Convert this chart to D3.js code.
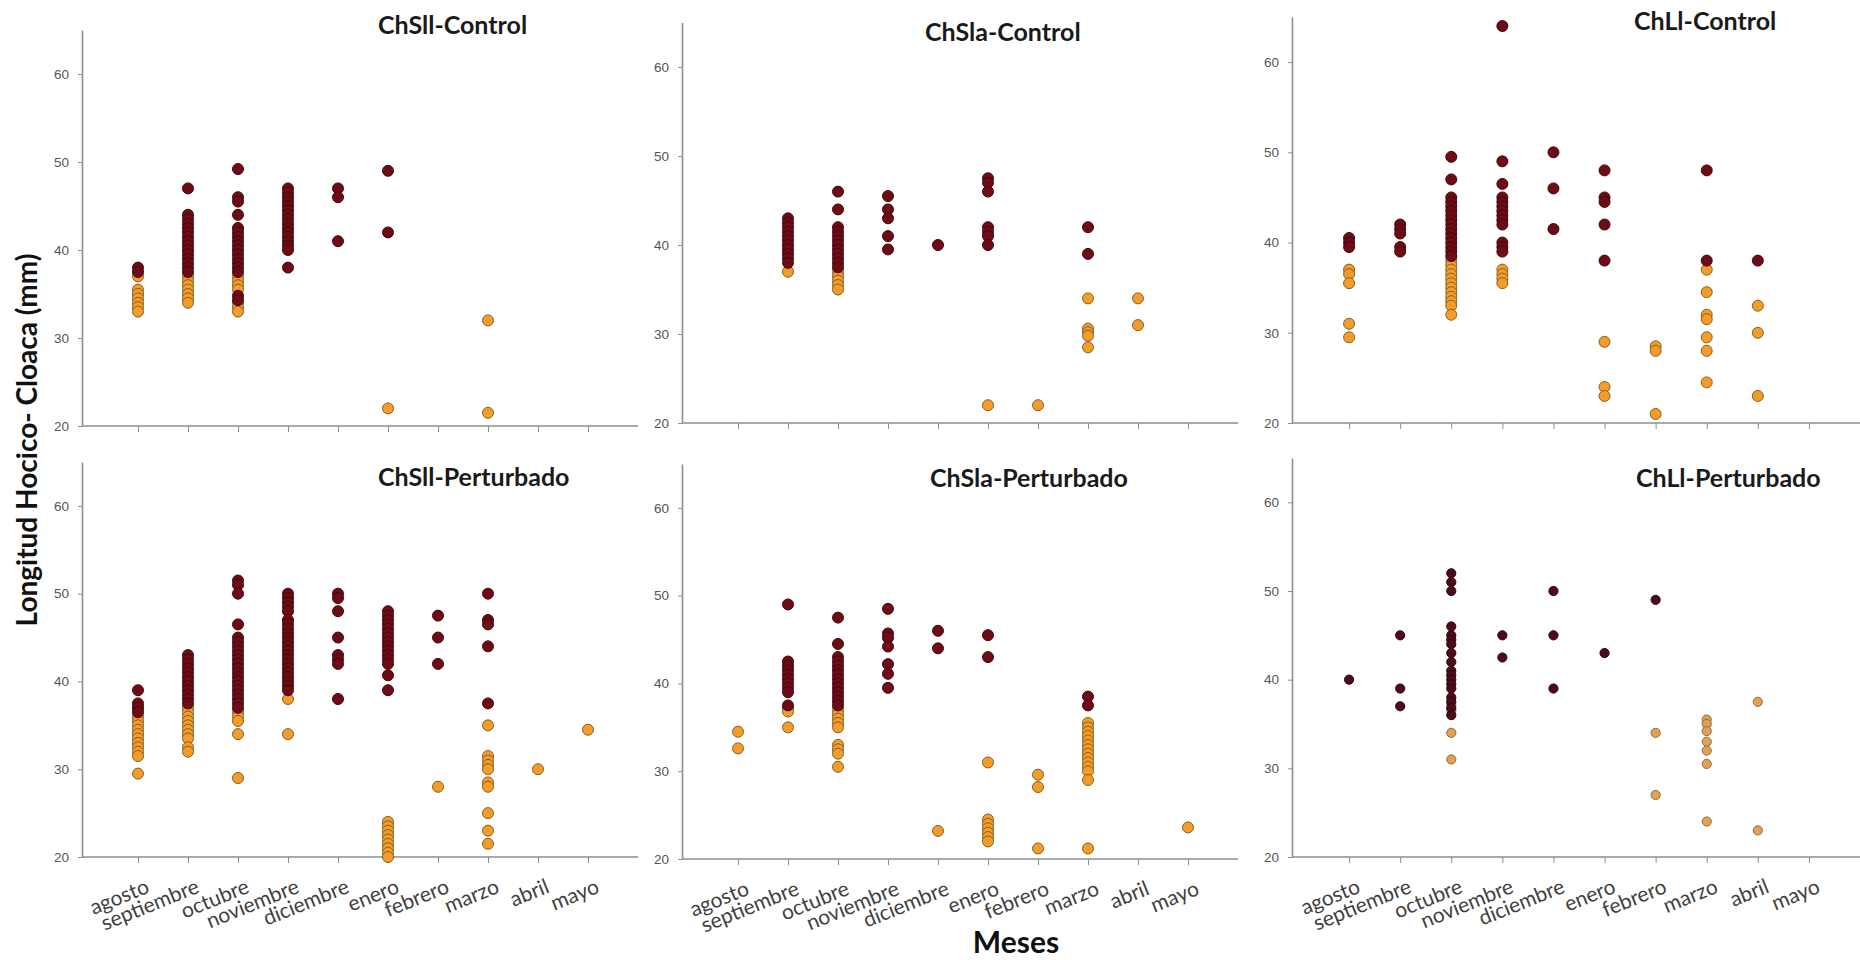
<!DOCTYPE html>
<html>
<head>
<meta charset="utf-8">
<script src="https://cdn.jsdelivr.net/npm/d3@7"></script>
<style>
  body { margin: 0; background: #ffffff; }
  svg { display: block; }
</style>
</head>
<body>
<svg id="grafico" width="1860" height="960"></svg>
<script>
// Meses de muestreo (eje X) y marcas del eje Y
const meses = ["agosto", "septiembre", "octubre", "noviembre", "diciembre",
               "enero", "febrero", "marzo", "abril", "mayo"];
const marcasY = [20, 30, 40, 50, 60];

// Longitud hocico-cloaca (mm) por mes; "oscuro" = puntos granate, "claro" = puntos naranja

// ChSll-Control
const chsllControlOscuro = [
  [38, 37.5],
  [47, 44, 43.5, 43, 42.5, 42, 41.5, 41, 40.5, 40, 39.5, 39, 38.5, 38, 37.5],
  [49.2, 46, 45.5, 44, 42.5, 42, 41.5, 41, 40.5, 40, 39.5, 39, 38.5, 38, 37.5, 34.8, 34.3],
  [47, 46.5, 46, 45.5, 45, 44.5, 44, 43.5, 43, 42.5, 42, 41.5, 41, 40.5, 40, 38],
  [47, 46, 41],
  [49, 42],
  [], [], [], []
];
const chsllControlClaro = [
  [37, 35.5, 35, 34.5, 34, 33.5, 33],
  [37, 36.5, 36, 35.5, 35, 34.5, 34],
  [37, 36.5, 36, 35.5, 34, 33.5, 33],
  [], [],
  [22],
  [],
  [32, 21.5],
  [], []
];

// ChSla-Control
const chslaControlOscuro = [
  [],
  [43, 42.5, 42, 41.5, 41, 40.5, 40, 39.5, 39, 38.5, 38],
  [46, 44, 42, 41.5, 41, 40.5, 40, 39.5, 39, 38.5, 38, 37.5],
  [45.5, 44, 43, 41, 39.5],
  [40],
  [47.5, 47, 46, 42, 41.5, 41, 40],
  [],
  [42, 39],
  [], []
];
const chslaControlClaro = [
  [],
  [37],
  [37, 36.5, 36, 35.5, 35],
  [], [],
  [22],
  [22],
  [34, 30.6, 30.2, 29.8, 28.5],
  [34, 31],
  []
];

// ChLl-Control
const chllControlOscuro = [
  [40.5, 40, 39.5],
  [42, 41.5, 41, 39.5, 39],
  [49.5, 47, 45, 44.5, 44, 43.5, 43, 42.5, 42, 41.5, 41, 40.5, 40, 39.5, 39, 38.5],
  [64, 49, 46.5, 45, 44.5, 44, 43.5, 43, 42.5, 42, 40, 39.5, 39],
  [50, 46, 41.5],
  [48, 45, 44.5, 42, 38],
  [],
  [48, 38],
  [38],
  []
];
const chllControlClaro = [
  [37, 36.5, 35.5, 31, 29.5],
  [],
  [38, 37.5, 37, 36.5, 36, 35.5, 35, 34.5, 34, 33.5, 33, 32],
  [37, 36.5, 36, 35.5],
  [],
  [29, 24, 23],
  [28.5, 28, 21],
  [37, 34.5, 32, 31.5, 29.5, 28, 24.5],
  [33, 30, 23],
  []
];

// ChSll-Perturbado
const chsllPerturbadoOscuro = [
  [39, 37.5, 37, 36.5],
  [43, 42.5, 42, 41.5, 41, 40.5, 40, 39.5, 39, 38.5, 38, 37.5],
  [51.5, 51, 50, 46.5, 45, 44.5, 44, 43.5, 43, 42.5, 42, 41.5, 41, 40.5, 40, 39.5, 39, 38.5, 38, 37.5, 37],
  [50, 49.5, 49, 48.5, 48, 47, 46.5, 46, 45.5, 45, 44.5, 44, 43.5, 43, 42.5, 42, 41.5, 41, 40.5, 40, 39.5, 39],
  [50, 49.5, 48, 45, 43, 42.5, 42, 38],
  [48, 47.5, 47, 46.5, 46, 45.5, 45, 44.5, 44, 43.5, 43, 42.5, 42, 40.7, 39],
  [47.5, 45, 42],
  [50, 47, 46.5, 44, 37.5],
  [], []
];
const chsllPerturbadoClaro = [
  [37, 36, 35.5, 35, 34.5, 34, 33.5, 33, 32.5, 32, 31.5, 29.5],
  [37, 36.5, 36, 35.5, 35, 34.5, 34, 33.5, 32.5, 32],
  [36.5, 36, 35.5, 34, 29],
  [38, 34],
  [],
  [24, 23.5, 23, 22.5, 22, 21.5, 21, 20.5, 20],
  [28],
  [35, 31.5, 31, 30.5, 30, 28.5, 28, 25, 23, 21.5],
  [30],
  [34.5]
];

// ChSla-Perturbado
const chslaPerturbadoOscuro = [
  [],
  [49, 42.5, 42, 41.5, 41, 40.5, 40, 39.5, 39, 37.5],
  [47.5, 44.5, 43, 42.5, 42, 41.5, 41, 40.5, 40, 39.5, 39, 38.5, 38, 37.5],
  [48.5, 45.7, 45.2, 44.2, 42.2, 41.1, 39.5],
  [46, 44],
  [45.5, 43],
  [],
  [38.5, 37.5],
  [], []
];
const chslaPerturbadoClaro = [
  [34.5, 32.6],
  [37.2, 36.8, 35],
  [37, 36.5, 36, 35.5, 35, 33, 32.5, 32, 30.5],
  [],
  [23.2],
  [31, 24.5, 24, 23.5, 23, 22.5, 22],
  [29.6, 28.2, 21.2],
  [35.5, 35, 34.5, 34, 33.5, 33, 32.5, 32, 31.5, 31, 30.5, 30, 29, 21.2],
  [],
  [23.6]
];

// ChLl-Perturbado
const chllPerturbadoOscuro = [
  [40],
  [45, 39, 37],
  [52, 51, 50, 46, 45, 44.5, 44, 43, 42, 41, 40.5, 40, 39.5, 39, 38, 37.5, 36.8, 36],
  [45, 42.5],
  [50, 45, 39],
  [43],
  [49],
  [], [], []
];
const chllPerturbadoClaro = [
  [], [],
  [37.2, 36.5, 34, 31],
  [], [], [],
  [34, 27],
  [35.5, 35, 34.2, 33, 32, 30.5, 24],
  [37.5, 23],
  []
];

// Disposición de los seis paneles: x0..x1 fija la escala de meses,
// ejeX0 es donde arranca el eje Y (algo a la izquierda del primer intervalo)
const paneles = [
  { titulo: "ChSll-Control", oscuro: chsllControlOscuro, claro: chsllControlClaro,
    x0: 88, x1: 638, ejeX0: 82, yBase: 426, yTope: 30, tx: 378, ty: 34, meses: false, r: 5.5 },
  { titulo: "ChSla-Control", oscuro: chslaControlOscuro, claro: chslaControlClaro,
    x0: 688, x1: 1238, ejeX0: 682, yBase: 423, yTope: 22.5, tx: 925, ty: 41, meses: false, r: 5.5 },
  { titulo: "ChLl-Control", oscuro: chllControlOscuro, claro: chllControlClaro,
    x0: 1298, x1: 1860, ejeX0: 1292, yBase: 423, yTope: 17, tx: 1634, ty: 30, meses: false, r: 5.5 },
  { titulo: "ChSll-Perturbado", oscuro: chsllPerturbadoOscuro, claro: chsllPerturbadoClaro,
    x0: 88, x1: 638, ejeX0: 82, yBase: 857, yTope: 462, tx: 378, ty: 486, meses: true, r: 5.5 },
  { titulo: "ChSla-Perturbado", oscuro: chslaPerturbadoOscuro, claro: chslaPerturbadoClaro,
    x0: 688, x1: 1238, ejeX0: 682, yBase: 859, yTope: 464, tx: 930, ty: 487, meses: true, r: 5.5 },
  { titulo: "ChLl-Perturbado", oscuro: chllPerturbadoOscuro, claro: chllPerturbadoClaro,
    x0: 1298, x1: 1860, ejeX0: 1292, yBase: 857, yTope: 458, tx: 1636, ty: 487, meses: true, r: 4.6, oscuroAlt: true }
];

const svg = d3.select("#grafico");
const colorEje = "#8e8e8e";

paneles.forEach(p => {
  const x = d3.scalePoint().domain(meses).range([p.x0, p.x1]).padding(1);
  const y = d3.scaleLinear().domain([20, 65]).range([p.yBase, p.yTope]);
  const g = svg.append("g");

  // Eje X (la línea base se prolonga hasta el eje Y)
  const ejeX = g.append("g")
    .attr("transform", `translate(0,${p.yBase})`)
    .call(d3.axisBottom(x).tickSize(6).tickSizeOuter(0));
  ejeX.select(".domain")
    .attr("d", `M${p.ejeX0},0H${p.x1}`)
    .attr("stroke", colorEje).attr("stroke-width", 1.6);
  ejeX.selectAll(".tick line").attr("stroke", colorEje);
  if (p.meses) {
    ejeX.selectAll(".tick text")
      .attr("fill", "#3f3f3f")
      .style("font-family", "Lato, 'Open Sans', sans-serif")
      .style("font-size", "21px")
      .attr("text-anchor", "end")
      .attr("dy", null)
      .attr("y", 0)
      .attr("transform", "translate(12,35) rotate(-22)");
  } else {
    ejeX.selectAll(".tick text").remove();
  }

  // Eje Y
  const ejeY = g.append("g")
    .attr("transform", `translate(${p.ejeX0},0)`)
    .call(d3.axisLeft(y).tickValues(marcasY).tickSize(4).tickSizeOuter(0).tickPadding(9));
  ejeY.select(".domain").attr("stroke", colorEje).attr("stroke-width", 1.6);
  ejeY.selectAll(".tick line").attr("stroke", colorEje);
  ejeY.selectAll(".tick text")
    .attr("fill", "#555555")
    .style("font-family", "'Liberation Sans', Arial, sans-serif")
    .style("font-size", "13.5px");

  // Puntos: primero los naranjas, encima los granates
  const puntos = (serie) => serie.flatMap((vals, i) => vals.map(v => ({ mes: meses[i], v })));

  g.append("g").selectAll("circle")
    .data(puntos(p.claro))
    .join("circle")
    .attr("cx", d => x(d.mes))
    .attr("cy", d => y(d.v))
    .attr("r", p.r)
    .attr("fill", p.oscuroAlt ? "#e3a14f" : "#f29c2b")
    .attr("stroke", p.oscuroAlt ? "#86704f" : "#8a5f1f")
    .attr("stroke-width", 1);

  g.append("g").selectAll("circle")
    .data(puntos(p.oscuro))
    .join("circle")
    .attr("cx", d => x(d.mes))
    .attr("cy", d => y(d.v))
    .attr("r", p.r)
    .attr("fill", p.oscuroAlt ? "#4c0a1a" : "#6d0c15")
    .attr("stroke", p.oscuroAlt ? "#2e0510" : "#45060c")
    .attr("stroke-width", 1);

  // Título del panel
  g.append("text")
    .attr("x", p.tx)
    .attr("y", p.ty)
    .attr("fill", "#1a1a1a")
    .style("font-family", "Lato, 'Open Sans', sans-serif")
    .style("font-weight", "700")
    .style("font-size", "25px")
    .text(p.titulo);
});

// Títulos de los ejes
svg.append("text")
  .attr("transform", "translate(37,440) rotate(-90)")
  .attr("text-anchor", "middle")
  .attr("fill", "#111111")
  .style("font-family", "Lato, 'Open Sans', sans-serif")
  .style("font-weight", "700")
  .style("font-size", "28px")
  .text("Longitud Hocico- Cloaca (mm)");

svg.append("text")
  .attr("x", 1016)
  .attr("y", 953)
  .attr("text-anchor", "middle")
  .attr("fill", "#111111")
  .style("font-family", "Lato, 'Open Sans', sans-serif")
  .style("font-weight", "700")
  .style("font-size", "30px")
  .text("Meses");
</script>
</body>
</html>
